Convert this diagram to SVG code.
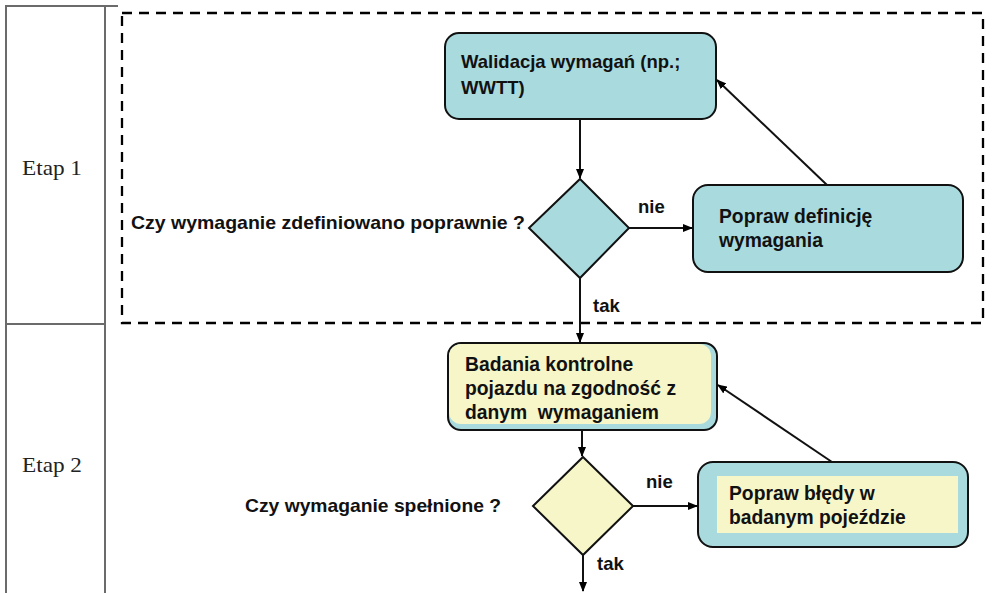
<svg xmlns="http://www.w3.org/2000/svg" width="993" height="593" viewBox="0 0 993 593">
<defs>
<marker id="ah" markerWidth="10" markerHeight="8" refX="9" refY="4" orient="auto" markerUnits="userSpaceOnUse">
<path d="M0,0 L10,4 L0,8 z" fill="#000"/>
</marker>
<style>
.tbl{stroke:#6b6b6b;stroke-width:2;fill:none}
.etap{font-family:"Liberation Serif","Times New Roman",serif;font-size:22px;fill:#222}
.t{font-family:"Liberation Sans",Arial,sans-serif;font-weight:bold;font-size:18.5px;fill:#111}
.b{font-size:19.3px;white-space:pre}
.teal{fill:#A9DBDE;stroke:#111;stroke-width:2}
.yel{fill:#F6F6C9}
.yelb{fill:#F6F6C9;stroke:#111;stroke-width:2}
.c{stroke:#111;stroke-width:2;fill:none;marker-end:url(#ah)}
</style>
</defs>
<rect width="993" height="593" fill="#fff"/>
<g id="table">
<line class="tbl" x1="6" y1="6" x2="118" y2="6"/>
<line class="tbl" x1="6" y1="5" x2="6" y2="593"/>
<line class="tbl" x1="105" y1="5" x2="105" y2="593"/>
<line class="tbl" x1="6" y1="324" x2="105" y2="324"/>
<text class="etap" x="22" y="175" textLength="60" lengthAdjust="spacingAndGlyphs">Etap 1</text>
<text class="etap" x="22" y="472" textLength="60" lengthAdjust="spacingAndGlyphs">Etap 2</text>
</g>
<g id="stage1-frame">
<rect x="122" y="13" width="861" height="310" fill="none" stroke="#000" stroke-width="2.3" stroke-dasharray="10,7"/>
</g>
<g id="walidacja">
<rect class="teal" x="445" y="33" width="271" height="86" rx="14"/>
<text class="t" x="461" y="68">Walidacja wymagań (np.;</text>
<text class="t" x="461" y="94">WWTT)</text>
</g>
<g id="decision1">
<polygon class="teal" points="580,179 629,228 580,278 529,228"/>
<text class="t" x="131" y="229" textLength="394" lengthAdjust="spacingAndGlyphs">Czy wymaganie zdefiniowano poprawnie ?</text>
</g>
<g id="popraw-definicje">
<rect class="teal" x="693" y="185" width="270" height="87" rx="15"/>
<text class="t b" x="719" y="223">Popraw definicję</text>
<text class="t b" x="719" y="247">wymagania</text>
</g>
<g id="badania">
<rect class="teal" x="448" y="343" width="269" height="87" rx="13"/>
<rect class="yel" x="449" y="344" width="262" height="80" rx="12"/>
<text class="t b" x="465" y="371">Badania kontrolne</text>
<text class="t b" x="465" y="395">pojazdu na zgodność z</text>
<text class="t b" x="465" y="419" xml:space="preserve">danym  wymaganiem</text>
</g>
<g id="decision2">
<polygon class="yelb" points="583,457 633,506 583,555 533,506"/>
<text class="t" x="245" y="512" textLength="256" lengthAdjust="spacingAndGlyphs">Czy wymaganie spełnione ?</text>
</g>
<g id="popraw-bledy">
<rect class="teal" x="698" y="462" width="270" height="85" rx="15"/>
<rect class="yel" x="717" y="476" width="241" height="57"/>
<text class="t b" x="729" y="500">Popraw błędy w</text>
<text class="t b" x="729" y="524">badanym pojeździe</text>
</g>
<g id="connectors">
<line class="c" x1="580" y1="119" x2="580" y2="178"/>
<line class="c" x1="629" y1="228" x2="692" y2="228"/>
<line class="c" x1="827" y1="185" x2="717" y2="80"/>
<line class="c" x1="580" y1="278" x2="580" y2="342"/>
<line class="c" x1="582" y1="430" x2="582" y2="456"/>
<line class="c" x1="633" y1="506" x2="697" y2="506"/>
<line class="c" x1="832" y1="462" x2="718" y2="385"/>
<line class="c" x1="583" y1="555" x2="583" y2="591"/>
<text class="t" x="638" y="213">nie</text>
<text class="t" x="593" y="312">tak</text>
<text class="t" x="646" y="488">nie</text>
<text class="t" x="597" y="570">tak</text>
</g>
</svg>
